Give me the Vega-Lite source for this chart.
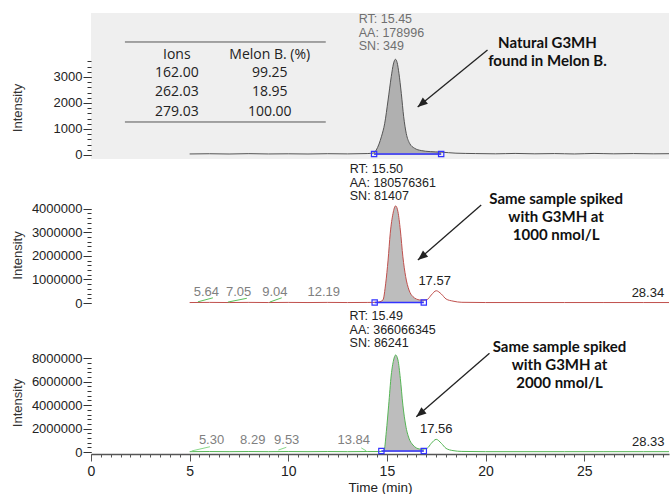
{
  "$schema": "https://vega.github.io/schema/vega-lite/v6.json",
  "background": "white",
  "padding": {"left": 11, "top": 13, "right": 0, "bottom": 0},
  "bounds": "flush",
  "spacing": 4,
  "config": {
    "view": {"stroke": null},
    "font": "Liberation Sans",
    "axis": {"grid": false, "labelFont": "Liberation Sans", "titleFont": "Liberation Sans"}
  },
  "datasets": {
    "traceA": [
      {"t": 5.0, "y": 40}, {"t": 6, "y": 48}, {"t": 7, "y": 38}, {"t": 8, "y": 52}, {"t": 9, "y": 40}, {"t": 10, "y": 46}, {"t": 11, "y": 38}, {"t": 12, "y": 50}, {"t": 13, "y": 42}, {"t": 14, "y": 55},
      {"t": 14.35, "y": 80}, {"t": 14.46, "y": 190}, {"t": 14.6, "y": 420}, {"t": 14.72, "y": 700}, {"t": 14.89, "y": 1220}, {"t": 15.06, "y": 2115}, {"t": 15.22, "y": 3010}, {"t": 15.33, "y": 3500}, {"t": 15.43, "y": 3680}, {"t": 15.52, "y": 3550}, {"t": 15.61, "y": 3140}, {"t": 15.73, "y": 2370}, {"t": 15.85, "y": 1470}, {"t": 15.98, "y": 830}, {"t": 16.15, "y": 450}, {"t": 16.4, "y": 260}, {"t": 16.74, "y": 170}, {"t": 17.2, "y": 130}, {"t": 17.75, "y": 110},
      {"t": 18.5, "y": 70}, {"t": 19.5, "y": 55}, {"t": 20.5, "y": 45}, {"t": 21.5, "y": 60}, {"t": 22.5, "y": 45}, {"t": 23.5, "y": 55}, {"t": 24.5, "y": 40}, {"t": 25.5, "y": 60}, {"t": 26.5, "y": 45}, {"t": 27.5, "y": 55}, {"t": 28.5, "y": 45}, {"t": 29.3, "y": 50}
    ],
    "traceB": [
      {"t": 5.0, "y": 20000}, {"t": 6, "y": 26000}, {"t": 7, "y": 20000}, {"t": 8, "y": 26000}, {"t": 9, "y": 20000}, {"t": 10, "y": 25000}, {"t": 11, "y": 20000}, {"t": 12, "y": 25000}, {"t": 13, "y": 20000}, {"t": 14, "y": 24000},
      {"t": 14.38, "y": 28000}, {"t": 14.6, "y": 45000}, {"t": 14.8, "y": 130000}, {"t": 14.94, "y": 840000}, {"t": 15.06, "y": 1820000}, {"t": 15.17, "y": 2960000}, {"t": 15.31, "y": 3800000}, {"t": 15.44, "y": 4120000}, {"t": 15.56, "y": 3870000}, {"t": 15.68, "y": 3100000}, {"t": 15.81, "y": 1960000}, {"t": 15.95, "y": 1120000}, {"t": 16.12, "y": 550000}, {"t": 16.32, "y": 270000}, {"t": 16.66, "y": 130000}, {"t": 16.87, "y": 120000},
      {"t": 17.05, "y": 150000}, {"t": 17.25, "y": 340000}, {"t": 17.5, "y": 520000}, {"t": 17.76, "y": 380000}, {"t": 18.0, "y": 170000}, {"t": 18.35, "y": 80000}, {"t": 18.8, "y": 30000},
      {"t": 20, "y": 20000}, {"t": 22, "y": 20000}, {"t": 24, "y": 20000}, {"t": 26, "y": 20000}, {"t": 28, "y": 20000}, {"t": 29.3, "y": 20000}
    ],
    "traceC": [
      {"t": 5.0, "y": 30000}, {"t": 6, "y": 40000}, {"t": 7, "y": 30000}, {"t": 8, "y": 40000}, {"t": 9, "y": 30000}, {"t": 10, "y": 40000}, {"t": 11, "y": 30000}, {"t": 12, "y": 40000}, {"t": 13, "y": 30000}, {"t": 14, "y": 40000},
      {"t": 14.5, "y": 40000}, {"t": 14.72, "y": 50000}, {"t": 14.85, "y": 90000}, {"t": 14.97, "y": 1730000}, {"t": 15.09, "y": 4000000}, {"t": 15.22, "y": 6570000}, {"t": 15.34, "y": 7850000}, {"t": 15.44, "y": 8280000}, {"t": 15.56, "y": 7850000}, {"t": 15.68, "y": 6280000}, {"t": 15.81, "y": 4000000}, {"t": 15.95, "y": 2300000}, {"t": 16.12, "y": 1170000}, {"t": 16.32, "y": 600000}, {"t": 16.66, "y": 260000}, {"t": 16.87, "y": 250000},
      {"t": 17.05, "y": 330000}, {"t": 17.25, "y": 740000}, {"t": 17.5, "y": 1080000}, {"t": 17.76, "y": 740000}, {"t": 18.0, "y": 310000}, {"t": 18.35, "y": 120000}, {"t": 18.8, "y": 50000},
      {"t": 20, "y": 30000}, {"t": 22, "y": 30000}, {"t": 24, "y": 30000}, {"t": 26, "y": 30000}, {"t": 28, "y": 30000}, {"t": 29.3, "y": 30000}
    ],
    "brk": [
      {"panel": "A", "t": 14.35, "t2": 17.75, "y": 40},
      {"panel": "B", "t": 14.38, "t2": 16.87, "y": 20000},
      {"panel": "C", "t": 14.72, "t2": 16.87, "y": 90000}
    ],
    "segs": [
      {"panel": "B", "seg": 1, "t": 5.42, "y": 50000}, {"panel": "B", "seg": 1, "t": 6.18, "y": 220000},
      {"panel": "B", "seg": 2, "t": 6.94, "y": 40000}, {"panel": "B", "seg": 2, "t": 7.9, "y": 200000},
      {"panel": "B", "seg": 3, "t": 9.06, "y": 40000}, {"panel": "B", "seg": 3, "t": 9.67, "y": 220000},
      {"panel": "C", "seg": 1, "t": 5.1, "y": 90000}, {"panel": "C", "seg": 1, "t": 6.03, "y": 450000},
      {"panel": "C", "seg": 3, "t": 9.5, "y": 170000}, {"panel": "C", "seg": 3, "t": 9.9, "y": 400000},
      {"panel": "C", "seg": 4, "t": 13.7, "y": 350000}, {"panel": "C", "seg": 4, "t": 13.95, "y": 100000}
    ],
    "lbl": [
      {"panel": "B", "t": 5.64, "lt": 5.85, "y": 50000, "label": "5.64", "grp": "small"},
      {"panel": "B", "t": 7.05, "lt": 7.48, "y": 50000, "label": "7.05", "grp": "small"},
      {"panel": "B", "t": 9.04, "lt": 9.32, "y": 50000, "label": "9.04", "grp": "small"},
      {"panel": "B", "t": 12.19, "lt": 11.8, "y": 50000, "label": "12.19", "grp": "small"},
      {"panel": "B", "t": 17.57, "lt": 17.42, "y": 520000, "label": "17.57", "grp": "main"},
      {"panel": "B", "t": 28.34, "lt": 28.23, "y": 20000, "label": "28.34", "grp": "main"},
      {"panel": "C", "t": 5.30, "lt": 6.11, "y": 200000, "label": "5.30", "grp": "small"},
      {"panel": "C", "t": 8.29, "lt": 8.2, "y": 200000, "label": "8.29", "grp": "small"},
      {"panel": "C", "t": 9.53, "lt": 9.92, "y": 200000, "label": "9.53", "grp": "small"},
      {"panel": "C", "t": 13.84, "lt": 13.32, "y": 200000, "label": "13.84", "grp": "small"},
      {"panel": "C", "t": 17.56, "lt": 17.5, "y": 1080000, "label": "17.56", "grp": "main"},
      {"panel": "C", "t": 28.33, "lt": 28.25, "y": 30000, "label": "28.33", "grp": "main"}
    ],
    "info": [
      {"panel": "A", "t": 15.45, "y": 5461, "text": "RT: 15.45\nAA: 178996\nSN: 349"},
      {"panel": "B", "t": 15.50, "y": 5940000, "text": "RT: 15.50\nAA: 180576361\nSN: 81407"},
      {"panel": "C", "t": 15.49, "y": 12120000, "text": "RT: 15.49\nAA: 366066345\nSN: 86241"}
    ],
    "notes": [
      {"panel": "A", "t": 23.14, "y": 4577, "text": "Natural G3MH\nfound in Melon B."},
      {"panel": "B", "t": 23.58, "y": 4730000, "text": "Same sample spiked\nwith G3MH at\n1000 nmol/L"},
      {"panel": "C", "t": 23.75, "y": 9560000, "text": "Same sample spiked\nwith G3MH at\n2000 nmol/L"}
    ],
    "arrows": [
      {"panel": "A", "part": 0, "t": 20.1, "y": 4040}, {"panel": "A", "part": 1, "t": 16.56, "y": 1846},
      {"panel": "B", "part": 0, "t": 19.78, "y": 4160000}, {"panel": "B", "part": 1, "t": 16.57, "y": 1820000},
      {"panel": "C", "part": 0, "t": 20.2, "y": 8420000}, {"panel": "C", "part": 1, "t": 16.49, "y": 3010000}
    ],
    "yline": [
      {"panel": "A", "y": 0, "y2": 3600},
      {"panel": "B", "y": 0, "y2": 4050000},
      {"panel": "C", "y": 0, "y2": 8300000}
    ],
    "table": [
      {"t": 4.35, "y": 3846, "text": "Ions"}, {"t": 9.06, "y": 3846, "text": "Melon B. (%)"},
      {"t": 4.35, "y": 3154, "text": "162.00"}, {"t": 9.06, "y": 3154, "text": "99.25"},
      {"t": 4.35, "y": 2423, "text": "262.03"}, {"t": 9.06, "y": 2423, "text": "18.95"},
      {"t": 4.35, "y": 1654, "text": "279.03"}, {"t": 9.06, "y": 1654, "text": "100.00"}
    ],
    "trules": [
      {"t": 1.72, "t2": 11.9, "y": 4346},
      {"t": 1.72, "t2": 11.9, "y": 1269}
    ]
  },
  "vconcat": [
    {
      "width": 578, "height": 146,
      "view": {"fill": "#efefef", "stroke": null},
      "encoding": {
        "x": {"field": "t", "type": "quantitative", "scale": {"domain": [0, 29.3], "nice": false, "zero": false}, "axis": null},
        "y": {"field": "y", "type": "quantitative", "scale": {"domain": [-154, 5461], "nice": false, "zero": false}, "axis": null}
      },
      "layer": [
        {"data": {"name": "traceA"}, "transform": [{"filter": "datum.t >= 14.35 && datum.t <= 17.75"}],
         "mark": {"type": "area", "color": "#b0b0b0", "interpolate": "monotone"},
         "encoding": {"y2": {"datum": 0}}},
        {"data": {"name": "traceA"}, "mark": {"type": "line", "color": "#555555", "strokeWidth": 1, "interpolate": "monotone"},
         "encoding": {
           "x": {"field": "t", "type": "quantitative", "scale": {"domain": [0, 29.3], "nice": false, "zero": false},
                 "axis": {"orient": "bottom", "labels": false, "ticks": false, "title": null, "domainColor": "#777777", "domainWidth": 1.5}},
           "y": {"field": "y", "type": "quantitative", "scale": {"domain": [-154, 5461], "nice": false, "zero": false},
                 "axis": {"orient": "left", "values": [0, 1000, 2000, 3000], "format": "d", "domain": false, "tickSize": 8, "tickColor": "#333333", "labelPadding": 1, "labelFontSize": 13, "labelColor": "#222222",
                          "title": "Intensity", "titleX": -67, "titleY": 94.5, "titleFontSize": 13, "titleFontWeight": "normal", "titleColor": "#333333"}}
         }},
        {"data": {"name": "brk"}, "transform": [{"filter": "datum.panel == 'A'"}],
         "mark": {"type": "rule", "color": "#3333ff", "strokeWidth": 1.5}, "encoding": {"x2": {"field": "t2"}}},
        {"data": {"name": "brk"}, "transform": [{"filter": "datum.panel == 'A'"}, {"fold": ["t", "t2"], "as": ["end", "tt"]}],
         "mark": {"type": "point", "shape": "square", "filled": false, "color": "#3333ff", "size": 28, "strokeWidth": 1.2, "opacity": 1},
         "encoding": {"x": {"field": "tt", "type": "quantitative"}}},
        {"data": {"name": "yline"}, "transform": [{"filter": "datum.panel == 'A'"}],
         "mark": {"type": "rule", "color": "#333333", "strokeWidth": 1},
         "encoding": {
           "x": {"datum": 0, "type": "quantitative"},
           "y": {"field": "y", "type": "quantitative", "scale": {"domain": [-154, 5461], "nice": false, "zero": false},
                 "axis": {"orient": "left", "values": [0, 200, 400, 600, 800, 1000, 1200, 1400, 1600, 1800, 2000, 2200, 2400, 2600, 2800, 3000, 3200, 3400, 3600], "labels": false, "domain": false, "tickSize": 4, "tickColor": "#333333", "title": null}},
           "y2": {"field": "y2"}
         }},
        {"data": {"name": "trules"}, "mark": {"type": "rule", "color": "#555555", "strokeWidth": 1}, "encoding": {"x2": {"field": "t2"}}},
        {"data": {"name": "table"}, "mark": {"type": "text", "font": "Open Sans", "fontSize": 14, "color": "#222222", "baseline": "middle", "align": "center"},
         "encoding": {"text": {"field": "text"}}},
        {"data": {"name": "arrows"}, "transform": [{"filter": "datum.panel == 'A'"}],
         "mark": {"type": "line", "color": "#222222", "strokeWidth": 1.3}, "encoding": {"order": {"field": "part"}}},
        {"data": {"name": "arrows"}, "transform": [{"filter": "datum.panel == 'A' && datum.part == 1"}],
         "mark": {"type": "point", "shape": "M0,0L-0.4,1L0.4,1Z", "filled": true, "size": 400, "angle": 230, "color": "#222222", "opacity": 1, "strokeWidth": 0}},
        {"data": {"name": "notes"}, "transform": [{"filter": "datum.panel == 'A'"}],
         "mark": {"type": "text", "font": "Lato", "fontWeight": "bold", "fontSize": 15, "lineHeight": 18, "align": "center", "baseline": "top", "lineBreak": "\n", "color": "#111111"},
         "encoding": {"text": {"field": "text"}}},
        {"data": {"name": "info"}, "transform": [{"filter": "datum.panel == 'A'"}],
         "mark": {"type": "text", "fontSize": 12.5, "lineHeight": 13.5, "align": "left", "dx": -37, "baseline": "top", "lineBreak": "\n", "color": "#707070"},
         "encoding": {"text": {"field": "text"}}}
      ],
      "resolve": {"axis": {"y": "independent"}}
    },
    {
      "width": 578, "height": 143,
      "encoding": {
        "x": {"field": "t", "type": "quantitative", "scale": {"domain": [0, 29.3], "nice": false, "zero": false}, "axis": null},
        "y": {"field": "y", "type": "quantitative", "scale": {"domain": [-127000, 5940000], "nice": false, "zero": false}, "axis": null}
      },
      "layer": [
        {"data": {"name": "traceB"}, "transform": [{"filter": "datum.t >= 14.38 && datum.t <= 16.87"}],
         "mark": {"type": "area", "color": "#bdbdbd", "interpolate": "monotone"},
         "encoding": {"y2": {"datum": 0}}},
        {"data": {"name": "traceB"}, "mark": {"type": "line", "color": "#c0504d", "strokeWidth": 1, "interpolate": "monotone"},
         "encoding": {
           "x": {"field": "t", "type": "quantitative", "scale": {"domain": [0, 29.3], "nice": false, "zero": false},
                 "axis": {"orient": "bottom", "labels": false, "ticks": false, "title": null, "domainColor": "#666666", "domainWidth": 1.5}},
           "y": {"field": "y", "type": "quantitative", "scale": {"domain": [-127000, 5940000], "nice": false, "zero": false},
                 "axis": {"orient": "left", "values": [0, 1000000, 2000000, 3000000, 4000000], "format": "d", "domain": false, "tickSize": 8, "tickColor": "#333333", "labelPadding": 1, "labelFontSize": 13, "labelColor": "#222222",
                          "title": "Intensity", "titleX": -67, "titleY": 92, "titleFontSize": 13, "titleFontWeight": "normal", "titleColor": "#333333"}}
         }},
        {"data": {"name": "segs"}, "transform": [{"filter": "datum.panel == 'B'"}],
         "mark": {"type": "line", "color": "#5cc05c", "strokeWidth": 1}, "encoding": {"detail": {"field": "seg"}}},
        {"data": {"name": "brk"}, "transform": [{"filter": "datum.panel == 'B'"}],
         "mark": {"type": "rule", "color": "#3333ff", "strokeWidth": 1.5}, "encoding": {"x2": {"field": "t2"}}},
        {"data": {"name": "brk"}, "transform": [{"filter": "datum.panel == 'B'"}, {"fold": ["t", "t2"], "as": ["end", "tt"]}],
         "mark": {"type": "point", "shape": "square", "filled": false, "color": "#3333ff", "size": 28, "strokeWidth": 1.2, "opacity": 1},
         "encoding": {"x": {"field": "tt", "type": "quantitative"}}},
        {"data": {"name": "yline"}, "transform": [{"filter": "datum.panel == 'B'"}],
         "mark": {"type": "rule", "color": "#333333", "strokeWidth": 1},
         "encoding": {
           "x": {"datum": 0, "type": "quantitative"},
           "y": {"field": "y", "type": "quantitative", "scale": {"domain": [-127000, 5940000], "nice": false, "zero": false},
                 "axis": {"orient": "left", "values": [0, 200000, 400000, 600000, 800000, 1000000, 1200000, 1400000, 1600000, 1800000, 2000000, 2200000, 2400000, 2600000, 2800000, 3000000, 3200000, 3400000, 3600000, 3800000, 4000000], "labels": false, "domain": false, "tickSize": 4, "tickColor": "#333333", "title": null}},
           "y2": {"field": "y2"}
         }},
        {"data": {"name": "lbl"}, "transform": [{"filter": "datum.panel == 'B'"}],
         "mark": {"type": "text", "fontSize": 13, "align": "center", "baseline": "bottom", "dy": -3},
         "encoding": {"x": {"field": "lt", "type": "quantitative"}, "text": {"field": "label"}, "color": {"field": "grp", "type": "nominal", "scale": {"domain": ["small", "main"], "range": ["#808080", "#222222"]}, "legend": null}}},
        {"data": {"name": "arrows"}, "transform": [{"filter": "datum.panel == 'B'"}],
         "mark": {"type": "line", "color": "#222222", "strokeWidth": 1.3}, "encoding": {"order": {"field": "part"}}},
        {"data": {"name": "arrows"}, "transform": [{"filter": "datum.panel == 'B' && datum.part == 1"}],
         "mark": {"type": "point", "shape": "M0,0L-0.4,1L0.4,1Z", "filled": true, "size": 400, "angle": 230, "color": "#222222", "opacity": 1, "strokeWidth": 0}},
        {"data": {"name": "notes"}, "transform": [{"filter": "datum.panel == 'B'"}],
         "mark": {"type": "text", "font": "Lato", "fontWeight": "bold", "fontSize": 15, "lineHeight": 18, "align": "center", "baseline": "top", "lineBreak": "\n", "color": "#111111"},
         "encoding": {"text": {"field": "text"}}},
        {"data": {"name": "info"}, "transform": [{"filter": "datum.panel == 'B'"}],
         "mark": {"type": "text", "fontSize": 12.5, "lineHeight": 13.5, "align": "left", "dx": -47, "baseline": "top", "lineBreak": "\n", "color": "#222222"},
         "encoding": {"text": {"field": "text"}}}
      ],
      "resolve": {"axis": {"y": "independent"}}
    },
    {
      "width": 578, "height": 144,
      "encoding": {
        "x": {"field": "t", "type": "quantitative", "scale": {"domain": [0, 29.3], "nice": false, "zero": false}, "axis": null},
        "y": {"field": "y", "type": "quantitative", "scale": {"domain": [-170000, 12120000], "nice": false, "zero": false}, "axis": null}
      },
      "layer": [
        {"data": {"name": "traceC"}, "transform": [{"filter": "datum.t >= 14.72 && datum.t <= 16.87"}],
         "mark": {"type": "area", "color": "#bdbdbd", "interpolate": "monotone"},
         "encoding": {
           "x": {"field": "t", "type": "quantitative", "scale": {"domain": [0, 29.3], "nice": false, "zero": false},
                 "axis": {"orient": "bottom", "values": [0, 0.5, 1, 1.5, 2, 2.5, 3, 3.5, 4, 4.5, 5, 5.5, 6, 6.5, 7, 7.5, 8, 8.5, 9, 9.5, 10, 10.5, 11, 11.5, 12, 12.5, 13, 13.5, 14, 14.5, 15, 15.5, 16, 16.5, 17, 17.5, 18, 18.5, 19, 19.5, 20, 20.5, 21, 21.5, 22, 22.5, 23, 23.5, 24, 24.5, 25, 25.5, 26, 26.5, 27, 27.5, 28, 28.5, 29], "labels": false, "domain": false, "tickSize": 3, "tickColor": "#555555", "title": null}},
           "y2": {"datum": 0}
         }},
        {"data": {"name": "traceC"}, "mark": {"type": "line", "color": "#55b555", "strokeWidth": 1, "interpolate": "monotone"},
         "encoding": {
           "x": {"field": "t", "type": "quantitative", "scale": {"domain": [0, 29.3], "nice": false, "zero": false},
                 "axis": {"orient": "bottom", "values": [0, 5, 10, 15, 20, 25], "labelFlush": false, "domainColor": "#555555", "domainWidth": 1.5, "tickSize": 7, "tickColor": "#555555", "labelPadding": 3, "labelFontSize": 14, "labelColor": "#222222",
                          "title": "Time (min)", "titleFontSize": 13.5, "titleFontWeight": "normal", "titleColor": "#222222", "titlePadding": 2}},
           "y": {"field": "y", "type": "quantitative", "scale": {"domain": [-170000, 12120000], "nice": false, "zero": false},
                 "axis": {"orient": "left", "values": [0, 2000000, 4000000, 6000000, 8000000], "format": "d", "domain": false, "tickSize": 8, "tickColor": "#333333", "labelPadding": 1, "labelFontSize": 13, "labelColor": "#222222",
                          "title": "Intensity", "titleX": -67, "titleY": 92.5, "titleFontSize": 13, "titleFontWeight": "normal", "titleColor": "#333333"}}
         }},
        {"data": {"name": "segs"}, "transform": [{"filter": "datum.panel == 'C'"}],
         "mark": {"type": "line", "color": "#8ad88a", "strokeWidth": 1}, "encoding": {"detail": {"field": "seg"}}},
        {"data": {"name": "brk"}, "transform": [{"filter": "datum.panel == 'C'"}],
         "mark": {"type": "rule", "color": "#3333ff", "strokeWidth": 1.5}, "encoding": {"x2": {"field": "t2"}}},
        {"data": {"name": "brk"}, "transform": [{"filter": "datum.panel == 'C'"}, {"fold": ["t", "t2"], "as": ["end", "tt"]}],
         "mark": {"type": "point", "shape": "square", "filled": false, "color": "#3333ff", "size": 28, "strokeWidth": 1.2, "opacity": 1},
         "encoding": {"x": {"field": "tt", "type": "quantitative"}}},
        {"data": {"name": "yline"}, "transform": [{"filter": "datum.panel == 'C'"}],
         "mark": {"type": "rule", "color": "#333333", "strokeWidth": 1},
         "encoding": {
           "x": {"datum": 0, "type": "quantitative"},
           "y": {"field": "y", "type": "quantitative", "scale": {"domain": [-170000, 12120000], "nice": false, "zero": false},
                 "axis": {"orient": "left", "values": [0, 400000, 800000, 1200000, 1600000, 2000000, 2400000, 2800000, 3200000, 3600000, 4000000, 4400000, 4800000, 5200000, 5600000, 6000000, 6400000, 6800000, 7200000, 7600000, 8000000], "labels": false, "domain": false, "tickSize": 4, "tickColor": "#333333", "title": null}},
           "y2": {"field": "y2"}
         }},
        {"data": {"name": "lbl"}, "transform": [{"filter": "datum.panel == 'C'"}],
         "mark": {"type": "text", "fontSize": 13, "align": "center", "baseline": "bottom", "dy": -3},
         "encoding": {"x": {"field": "lt", "type": "quantitative"}, "text": {"field": "label"}, "color": {"field": "grp", "type": "nominal", "scale": {"domain": ["small", "main"], "range": ["#808080", "#222222"]}, "legend": null}}},
        {"data": {"name": "arrows"}, "transform": [{"filter": "datum.panel == 'C'"}],
         "mark": {"type": "line", "color": "#222222", "strokeWidth": 1.3}, "encoding": {"order": {"field": "part"}}},
        {"data": {"name": "arrows"}, "transform": [{"filter": "datum.panel == 'C' && datum.part == 1"}],
         "mark": {"type": "point", "shape": "M0,0L-0.4,1L0.4,1Z", "filled": true, "size": 400, "angle": 230, "color": "#222222", "opacity": 1, "strokeWidth": 0}},
        {"data": {"name": "notes"}, "transform": [{"filter": "datum.panel == 'C'"}],
         "mark": {"type": "text", "font": "Lato", "fontWeight": "bold", "fontSize": 15, "lineHeight": 18, "align": "center", "baseline": "top", "lineBreak": "\n", "color": "#111111"},
         "encoding": {"text": {"field": "text"}}},
        {"data": {"name": "info"}, "transform": [{"filter": "datum.panel == 'C'"}],
         "mark": {"type": "text", "fontSize": 12.5, "lineHeight": 13.5, "align": "left", "dx": -47, "baseline": "top", "lineBreak": "\n", "color": "#222222"},
         "encoding": {"text": {"field": "text"}}}
      ],
      "resolve": {"axis": {"x": "independent", "y": "independent"}}
    }
  ]
}
